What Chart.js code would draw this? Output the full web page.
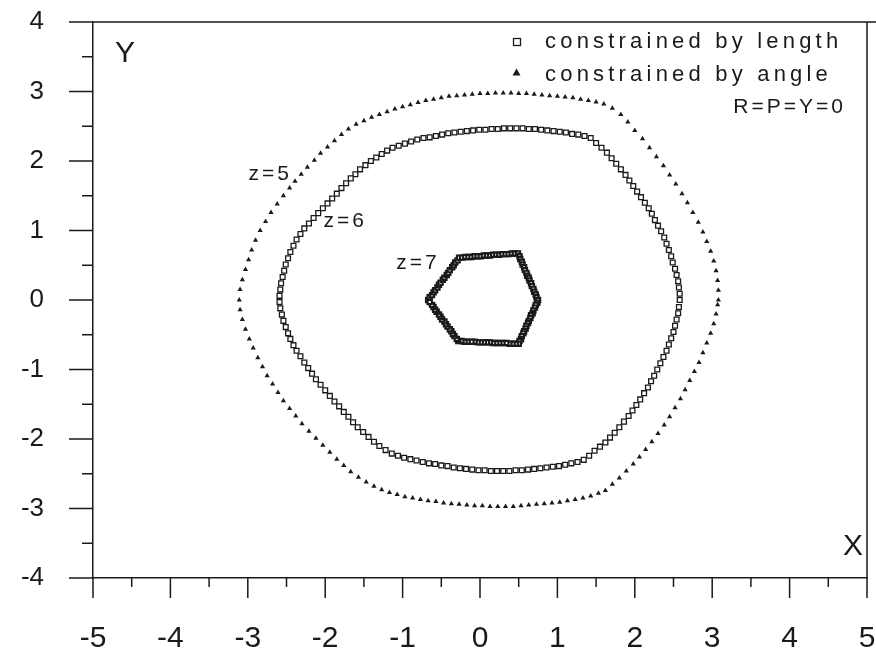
<!DOCTYPE html>
<html>
<head>
<meta charset="utf-8">
<script src="https://cdn.jsdelivr.net/npm/chart.js@4.4.1/dist/chart.umd.min.js"></script>
<style>
  html, body { margin: 0; padding: 0; background: #fff; }
</style>
</head>
<body>
<canvas id="workspace" width="876" height="654"></canvas>
<script>
// axis ticks
const xTicks = [-5, -4, -3, -2, -1, 0, 1, 2, 3, 4, 5];
const yTicks = [-4, -3, -2, -1, 0, 1, 2, 3, 4];

// legend / annotation text
const legendLabels = ["constrained by length", "constrained by angle"];
const poseNote = "R=P=Y=0";
const curveLabels = ["z=5", "z=6", "z=7"];
const curveLabelAt = [[-2.71, 1.81], [-1.74, 1.14], [-0.80, 0.53]];

// reachable boundary at z=5, constrained by angle (triangles)
const boundaryZ5 = [
  [3.08,0.00],[3.08,0.14],[3.07,0.28],[3.05,0.42],[3.02,0.56],[2.98,0.70],[2.93,0.84],[2.88,0.98],
  [2.82,1.12],[2.75,1.26],[2.68,1.40],[2.61,1.53],[2.53,1.67],[2.45,1.80],[2.37,1.93],[2.28,2.06],
  [2.19,2.19],[2.10,2.32],[2.00,2.44],[1.91,2.56],[1.82,2.67],[1.71,2.76],
  [1.60,2.82],[1.50,2.85],[1.40,2.87],[1.30,2.89],[1.20,2.91],[1.10,2.92],[1.00,2.93],[0.90,2.94],
  [0.80,2.95],[0.70,2.96],[0.60,2.97],[0.50,2.97],[0.40,2.98],[0.30,2.98],[0.20,2.98],[0.10,2.97],
  [0.00,2.97],[-0.10,2.96],[-0.20,2.95],[-0.30,2.94],[-0.40,2.93],[-0.50,2.91],[-0.60,2.89],[-0.70,2.87],
  [-0.80,2.84],[-0.90,2.81],[-1.00,2.78],[-1.10,2.75],[-1.20,2.71],[-1.30,2.67],[-1.40,2.63],[-1.50,2.58],
  [-1.60,2.53],
  [-1.70,2.46],[-1.79,2.38],[-1.88,2.29],[-1.97,2.20],[-2.06,2.11],[-2.14,2.01],[-2.23,1.91],[-2.31,1.81],
  [-2.39,1.71],[-2.46,1.61],[-2.54,1.50],[-2.62,1.38],[-2.70,1.26],[-2.77,1.13],[-2.84,1.00],[-2.90,0.86],
  [-2.95,0.72],[-2.99,0.58],[-3.03,0.44],[-3.07,0.29],[-3.10,0.15],[-3.11,0.00],
  [-3.10,-0.14],[-3.07,-0.28],[-3.03,-0.42],[-2.98,-0.56],[-2.93,-0.69],[-2.87,-0.83],[-2.81,-0.96],
  [-2.75,-1.09],[-2.68,-1.21],[-2.61,-1.33],[-2.54,-1.45],[-2.46,-1.56],[-2.38,-1.67],[-2.30,-1.78],
  [-2.21,-1.89],[-2.12,-1.99],[-2.03,-2.09],[-1.94,-2.19],[-1.85,-2.29],[-1.76,-2.38],[-1.67,-2.47],
  [-1.57,-2.55],
  [-1.47,-2.62],[-1.37,-2.68],[-1.27,-2.73],[-1.17,-2.77],[-1.07,-2.80],[-0.97,-2.83],[-0.87,-2.85],
  [-0.77,-2.87],[-0.67,-2.89],[-0.57,-2.90],[-0.47,-2.92],[-0.37,-2.93],[-0.27,-2.94],[-0.17,-2.95],
  [-0.07,-2.96],[0.03,-2.96],[0.13,-2.97],[0.23,-2.97],[0.33,-2.97],[0.43,-2.97],[0.53,-2.96],
  [0.63,-2.95],[0.73,-2.94],[0.83,-2.93],[0.93,-2.92],[1.03,-2.91],[1.13,-2.89],[1.23,-2.87],
  [1.33,-2.85],[1.43,-2.82],[1.53,-2.78],[1.62,-2.74],
  [1.71,-2.65],[1.80,-2.56],[1.89,-2.46],[1.98,-2.36],[2.06,-2.26],[2.14,-2.15],[2.22,-2.04],
  [2.30,-1.92],[2.38,-1.80],[2.45,-1.68],[2.52,-1.55],[2.59,-1.42],[2.65,-1.29],[2.71,-1.16],
  [2.77,-1.03],[2.83,-0.90],[2.88,-0.76],[2.93,-0.62],[2.98,-0.48],[3.02,-0.34],[3.05,-0.20],[3.07,-0.07]
];

// reachable boundary at z=6, constrained by length (squares)
const boundaryZ6 = [
  [2.58,0.00],[2.58,0.09],[2.57,0.18],[2.56,0.27],[2.54,0.36],[2.52,0.45],[2.49,0.54],[2.47,0.63],
  [2.44,0.72],[2.41,0.81],[2.38,0.90],[2.34,0.99],[2.30,1.07],[2.26,1.15],[2.22,1.24],[2.18,1.32],
  [2.13,1.40],[2.08,1.48],[2.03,1.56],[1.98,1.64],[1.93,1.72],[1.88,1.80],[1.82,1.88],[1.76,1.96],
  [1.70,2.04],[1.64,2.12],[1.57,2.19],[1.50,2.26],[1.43,2.33],
  [1.35,2.36],[1.27,2.38],[1.19,2.39],[1.11,2.41],[1.03,2.42],[0.95,2.43],[0.87,2.44],[0.79,2.45],
  [0.71,2.46],[0.63,2.46],[0.55,2.47],[0.47,2.47],[0.39,2.47],[0.31,2.47],[0.23,2.46],[0.15,2.46],
  [0.07,2.45],[-0.01,2.45],[-0.09,2.44],[-0.17,2.43],[-0.25,2.42],[-0.33,2.41],[-0.41,2.40],[-0.49,2.38],
  [-0.57,2.36],[-0.65,2.34],[-0.73,2.33],[-0.81,2.31],[-0.89,2.28],[-0.97,2.25],[-1.05,2.22],[-1.13,2.19],
  [-1.20,2.15],
  [-1.27,2.10],[-1.34,2.05],[-1.41,2.00],[-1.48,1.94],[-1.55,1.88],[-1.61,1.81],[-1.67,1.75],[-1.73,1.68],
  [-1.79,1.61],[-1.85,1.53],[-1.91,1.46],[-1.97,1.39],[-2.03,1.32],[-2.09,1.25],[-2.15,1.18],[-2.21,1.10],
  [-2.27,1.03],[-2.32,0.95],[-2.37,0.87],[-2.41,0.78],[-2.45,0.69],[-2.48,0.60],[-2.51,0.51],[-2.53,0.42],
  [-2.55,0.33],[-2.57,0.24],[-2.58,0.15],[-2.59,0.06],
  [-2.59,-0.03],[-2.58,-0.12],[-2.56,-0.21],[-2.54,-0.30],[-2.51,-0.39],[-2.48,-0.48],[-2.45,-0.56],
  [-2.41,-0.65],[-2.37,-0.73],[-2.32,-0.81],[-2.27,-0.90],[-2.22,-0.98],[-2.17,-1.06],[-2.12,-1.14],
  [-2.06,-1.22],[-2.00,-1.30],[-1.94,-1.38],[-1.88,-1.46],[-1.82,-1.53],[-1.76,-1.61],[-1.70,-1.68],
  [-1.64,-1.76],[-1.58,-1.83],[-1.51,-1.90],[-1.44,-1.97],[-1.37,-2.04],[-1.30,-2.10],[-1.22,-2.16],
  [-1.14,-2.21],
  [-1.06,-2.24],[-0.98,-2.27],[-0.90,-2.29],[-0.82,-2.31],[-0.74,-2.33],[-0.66,-2.35],[-0.58,-2.36],
  [-0.50,-2.38],[-0.42,-2.39],[-0.34,-2.41],[-0.26,-2.42],[-0.18,-2.43],[-0.10,-2.44],[-0.02,-2.45],
  [0.06,-2.45],[0.14,-2.46],[0.22,-2.46],[0.30,-2.46],[0.38,-2.46],[0.46,-2.45],[0.54,-2.45],
  [0.62,-2.44],[0.70,-2.43],[0.78,-2.42],[0.86,-2.41],[0.94,-2.40],[1.02,-2.39],[1.10,-2.37],
  [1.18,-2.35],[1.26,-2.33],[1.34,-2.30],
  [1.41,-2.24],[1.48,-2.17],[1.55,-2.11],[1.62,-2.05],[1.68,-1.98],[1.74,-1.91],[1.80,-1.83],
  [1.86,-1.75],[1.92,-1.67],[1.97,-1.59],[2.02,-1.51],[2.07,-1.43],[2.12,-1.34],[2.17,-1.26],
  [2.21,-1.17],[2.25,-1.09],[2.29,-1.00],[2.33,-0.91],[2.37,-0.82],[2.41,-0.73],[2.44,-0.64],
  [2.47,-0.55],[2.50,-0.46],[2.52,-0.37],[2.54,-0.28],[2.56,-0.19],[2.57,-0.10]
];

// reachable boundary at z=7, constrained by length (dense squares)
const boundaryZ7 = [
  [-0.67,0.00],[-0.65,0.04],[-0.62,0.07],[-0.60,0.11],[-0.58,0.14],[-0.55,0.18],[-0.53,0.22],[-0.51,0.25],
  [-0.48,0.29],[-0.46,0.32],[-0.43,0.36],[-0.41,0.39],[-0.39,0.43],[-0.36,0.47],[-0.34,0.50],[-0.32,0.54],
  [-0.29,0.57],
  [-0.27,0.61],[-0.23,0.61],[-0.19,0.62],[-0.15,0.62],[-0.11,0.62],[-0.07,0.63],[-0.03,0.63],[0.01,0.63],
  [0.05,0.64],[0.09,0.64],[0.13,0.64],[0.17,0.65],[0.21,0.65],[0.25,0.65],[0.29,0.66],[0.33,0.66],
  [0.37,0.66],[0.41,0.67],[0.45,0.67],
  [0.49,0.67],[0.51,0.63],[0.52,0.59],[0.54,0.55],[0.55,0.51],[0.57,0.47],[0.58,0.43],[0.60,0.39],
  [0.61,0.35],[0.63,0.32],[0.64,0.28],[0.66,0.24],[0.67,0.20],[0.69,0.16],[0.70,0.12],[0.72,0.08],
  [0.73,0.04],
  [0.75,0.00],[0.74,-0.04],[0.72,-0.07],[0.71,-0.11],[0.69,-0.15],[0.68,-0.19],[0.66,-0.22],[0.65,-0.26],
  [0.63,-0.30],[0.62,-0.33],[0.60,-0.37],[0.59,-0.41],[0.57,-0.45],[0.56,-0.48],[0.54,-0.52],[0.53,-0.56],
  [0.51,-0.59],
  [0.50,-0.63],[0.46,-0.63],[0.42,-0.63],[0.38,-0.63],[0.34,-0.62],[0.29,-0.62],[0.25,-0.62],[0.21,-0.62],
  [0.17,-0.62],[0.13,-0.61],[0.09,-0.61],[0.05,-0.61],[0.01,-0.61],[-0.03,-0.61],[-0.07,-0.60],[-0.11,-0.60],
  [-0.16,-0.60],[-0.20,-0.60],[-0.24,-0.59],
  [-0.28,-0.59],[-0.30,-0.56],[-0.33,-0.52],[-0.35,-0.49],[-0.37,-0.45],[-0.39,-0.42],[-0.42,-0.38],
  [-0.44,-0.35],[-0.46,-0.31],[-0.49,-0.28],[-0.51,-0.24],[-0.53,-0.21],[-0.56,-0.17],[-0.58,-0.14],
  [-0.60,-0.10],[-0.62,-0.07],[-0.65,-0.03]
];

const ink = "#1a1a1a";
const face = "'Liberation Sans', Arial, sans-serif";
const toPts = arr => arr.map(([x, y]) => ({ x, y }));

// frame, tick marks, axis letters, curve labels and legend
const decor = {
  id: "decor",
  afterDraw(chart) {
    const { ctx, chartArea: a, scales: { x, y } } = chart;
    ctx.save();
    ctx.strokeStyle = ink;
    ctx.lineWidth = 1.5;
    ctx.beginPath();
    ctx.moveTo(a.left, a.top); ctx.lineTo(chart.width, a.top);
    ctx.moveTo(a.right, a.top); ctx.lineTo(a.right, a.bottom);
    yTicks.forEach(v => {
      const py = y.getPixelForValue(v);
      ctx.moveTo(a.left - 24, py); ctx.lineTo(a.left, py);
      if (v < 4) {
        const pm = y.getPixelForValue(v + 0.5);
        ctx.moveTo(a.left - 11, pm); ctx.lineTo(a.left, pm);
      }
    });
    xTicks.forEach(v => {
      const px = x.getPixelForValue(v);
      ctx.moveTo(px, a.bottom); ctx.lineTo(px, a.bottom + 20);
      if (v < 5) {
        const pm = x.getPixelForValue(v + 0.5);
        ctx.moveTo(pm, a.bottom); ctx.lineTo(pm, a.bottom + 9);
      }
    });
    ctx.stroke();

    ctx.fillStyle = ink;
    ctx.font = "30px " + face;
    ctx.textAlign = "left";
    ctx.textBaseline = "alphabetic";
    ctx.fillText("Y", a.left + 22, a.top + 40);
    ctx.fillText("X", a.right - 24, a.bottom - 23);

    ctx.font = "21px " + face;
    ctx.letterSpacing = "3px";
    ctx.textAlign = "center";
    ctx.textBaseline = "middle";
    curveLabels.forEach((t, i) => {
      ctx.fillText(t, x.getPixelForValue(curveLabelAt[i][0]), y.getPixelForValue(curveLabelAt[i][1]));
    });

    // legend
    ctx.lineWidth = 1.3;
    ctx.strokeRect(513.5, 38.5, 7, 7);
    ctx.beginPath();
    ctx.moveTo(516.5, 68.5); ctx.lineTo(520.5, 75.5); ctx.lineTo(512.5, 75.5); ctx.closePath();
    ctx.fill();
    ctx.font = "22px " + face;
    ctx.letterSpacing = "4.2px";
    ctx.textAlign = "left";
    ctx.textBaseline = "alphabetic";
    ctx.fillText(legendLabels[0], 545, 48);
    ctx.fillText(legendLabels[1], 545, 81);
    ctx.font = "21px " + face;
    ctx.letterSpacing = "3px";
    ctx.textAlign = "right";
    ctx.fillText(poseNote, 846, 113);
    ctx.restore();
  }
};

new Chart(document.getElementById("workspace"), {
  type: "scatter",
  data: {
    datasets: [
      { label: "z=5", data: toPts(boundaryZ5), pointStyle: "triangle", pointRadius: 3,
        backgroundColor: ink, borderColor: ink, borderWidth: 0 },
      { label: "z=6", data: toPts(boundaryZ6), pointStyle: "rect", pointRadius: 3.4,
        backgroundColor: "#fff", borderColor: ink, borderWidth: 1.3 },
      { label: "z=7", data: toPts(boundaryZ7), pointStyle: "rect", pointRadius: 3,
        backgroundColor: "#fff", borderColor: ink, borderWidth: 2.2 }
    ]
  },
  options: {
    responsive: false,
    animation: false,
    layout: { padding: { top: 22, right: 9, left: 0, bottom: 0 } },
    plugins: { legend: { display: false }, tooltip: { enabled: false } },
    scales: {
      x: {
        type: "linear", min: -5, max: 5,
        afterBuildTicks: s => { s.ticks = xTicks.map(v => ({ value: v })); },
        afterFit: s => { s.height = 76; s.paddingLeft = 0; s.paddingRight = 0; },
        grid: { display: false, drawTicks: false },
        border: { color: ink, width: 1.5 },
        ticks: { color: ink, autoSkip: false, maxRotation: 0, padding: 43,
                 font: { family: face, size: 30 } }
      },
      y: {
        type: "linear", min: -4, max: 4,
        afterBuildTicks: s => { s.ticks = yTicks.map(v => ({ value: v })); },
        afterFit: s => { s.width = 93; s.paddingTop = 0; s.paddingBottom = 0; },
        grid: { display: false, drawTicks: false },
        border: { color: ink, width: 1.5 },
        ticks: { color: ink, padding: 49, font: { family: face, size: 26 } }
      }
    }
  },
  plugins: [decor]
});
</script>
</body>
</html>
